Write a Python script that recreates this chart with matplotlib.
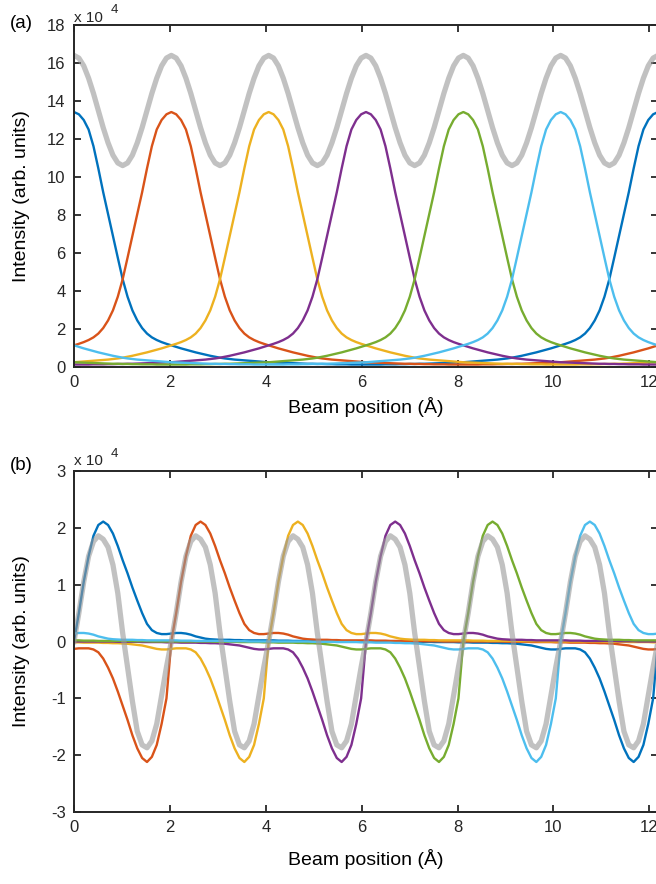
import numpy as np
import matplotlib.pyplot as plt

plt.rcParams['font.family'] = ['Liberation Sans', 'DejaVu Sans']
plt.rcParams['axes.unicode_minus'] = False

# beam positions sampled every 0.1015 A, six atomic columns 2.03 A apart
x_max = 12.18
n_samples = 121
peak_index = [0, 20, 40, 60, 80, 100]

# (a) intensity of one column vs distance from it (units of 1e4), 0..6.09 A
profile_a = [13.42, 13.30, 13.00, 12.50, 11.62, 10.45, 9.20, 8.05, 6.90, 5.75,
             4.62, 3.70, 2.98, 2.45, 2.05, 1.76, 1.56, 1.42, 1.31, 1.22,
             1.14, 1.06, 0.98, 0.91, 0.84, 0.77, 0.71, 0.65, 0.59, 0.54,
             0.49, 0.45, 0.42, 0.39, 0.37, 0.35, 0.33, 0.31, 0.29, 0.27,
             0.25, 0.24, 0.23, 0.22, 0.21, 0.20, 0.19, 0.18, 0.17, 0.17,
             0.16, 0.16, 0.15, 0.15, 0.14, 0.14, 0.14, 0.13, 0.13, 0.13,
             0.13]
# (a) total intensity over one period
total_a = [16.40, 16.26, 15.85, 15.20, 14.40, 13.50, 12.60, 11.80, 11.15, 10.74,
           10.60, 10.74, 11.15, 11.80, 12.60, 13.50, 14.40, 15.20, 15.85, 16.26]

# (b) signal on the positive side of a column (0..6.09 A)
profile_b_pos = [0.00, 0.50, 1.05, 1.50, 1.86, 2.05, 2.11, 2.05, 1.90, 1.68,
                 1.43, 1.20, 0.95, 0.72, 0.50, 0.31, 0.20, 0.15, 0.13, 0.13,
                 0.14, 0.15, 0.15, 0.14, 0.12, 0.09, 0.07, 0.05, 0.04, 0.035,
                 0.03, 0.03, 0.03, 0.025, 0.025, 0.02, 0.02, 0.02, 0.02, 0.02,
                 0.02, 0.02, 0.015, 0.015, 0.015, 0.01, 0.01, 0.01, 0.01, 0.01,
                 0.01, 0.01, 0.005, 0.005, 0.005, 0.005, 0.0, 0.0, 0.0, 0.0,
                 0.0]
# (b) signal on the negative side (-0.1015..-6.09 A)
profile_b_neg = [-0.48, -1.00, -1.45, -1.82, -2.03, -2.12, -2.05, -1.88, -1.65, -1.38,
                 -1.13, -0.88, -0.65, -0.46, -0.30, -0.19, -0.14, -0.12, -0.12, -0.12,
                 -0.13, -0.14, -0.14, -0.13, -0.11, -0.09, -0.07, -0.06, -0.05, -0.04,
                 -0.035, -0.03, -0.03, -0.025, -0.025, -0.02, -0.02, -0.02, -0.02, -0.015,
                 -0.015, -0.015, -0.01, -0.01, -0.01, -0.01, -0.01, -0.005, -0.005, -0.005,
                 -0.005, -0.005, 0.0, 0.0, 0.0, 0.0, 0.0, 0.0, 0.0, 0.0]
total_b = [0.00, 0.50, 1.05, 1.50, 1.76, 1.86, 1.80, 1.66, 1.35, 0.85,
           0.15, -0.45, -1.05, -1.58, -1.82, -1.87, -1.75, -1.45, -0.95, -0.45]

colors = ['#0072BD', '#D95319', '#EDB120', '#7E2F8E', '#77AC30', '#4DBEEE']

x = np.linspace(0, x_max, n_samples)
idx = np.arange(n_samples)
period = n_samples - 1
pa = np.array(profile_a)
pb = np.array(profile_b_pos + profile_b_neg[::-1])  # index 0..119 around the cycle

fig = plt.figure(figsize=(6.56, 8.84), dpi=100)
ax_a = fig.add_axes([74 / 656, 1 - 367 / 884, 584 / 656, 342 / 884])
ax_b = fig.add_axes([74 / 656, 1 - 812 / 884, 584 / 656, 341 / 884])

for i, c in zip(peak_index, colors):
    k = (idx - i) % period
    ax_a.plot(x, pa[np.minimum(k, period - k)], color=c, lw=1.7)
    ax_b.plot(x, pb[k], color=c, lw=1.7)

ax_a.plot(x, total_a * 6 + total_a[:1], color='0.6', alpha=0.6, lw=3.8)
ax_b.plot(x, total_b * 6 + total_b[:1], color='0.6', alpha=0.6, lw=3.8)

dark = '#262626'
for ax, ylim, yticks in [(ax_a, (0, 18), np.arange(0, 19, 2)),
                         (ax_b, (-3, 3), np.arange(-3, 4, 1))]:
    ax.set_xlim(0, x_max)
    ax.set_ylim(*ylim)
    ax.set_xticks(np.arange(0, 13, 2))
    ax.set_yticks(yticks)
    ax.tick_params(direction='in', top=True, right=True, length=5, width=1.3,
                   colors=dark, labelsize=12, pad=6)
    for s in ax.spines.values():
        s.set_linewidth(1.4)
        s.set_color(dark)
    ax.set_xlabel('Beam position (Å)', fontsize=14, color='black')
    ax.set_ylabel('Intensity (arb. units)', fontsize=14, color='black', va='center')
    ax.yaxis.set_label_coords(-52 / 584, 0.5)

ax_a.xaxis.set_label_coords(0.5, -30 / 342)
ax_b.xaxis.set_label_coords(0.5, -37 / 341)

fig.text(10 / 656, 1 - 24 / 884, '(a)', fontsize=13.5, va='center')
fig.text(10 / 656, 1 - 465 / 884, '(b)', fontsize=13.5, va='center')
fig.text(74 / 656, 1 - 22 / 884, 'x 10', fontsize=11, va='baseline', color=dark)
fig.text(111 / 656, 1 - 13 / 884, '4', fontsize=9.5, va='baseline', color=dark)
fig.text(74 / 656, 1 - 465 / 884, 'x 10', fontsize=11, va='baseline', color=dark)
fig.text(111 / 656, 1 - 457 / 884, '4', fontsize=9.5, va='baseline', color=dark)

fig.savefig('out.png', dpi=100)
